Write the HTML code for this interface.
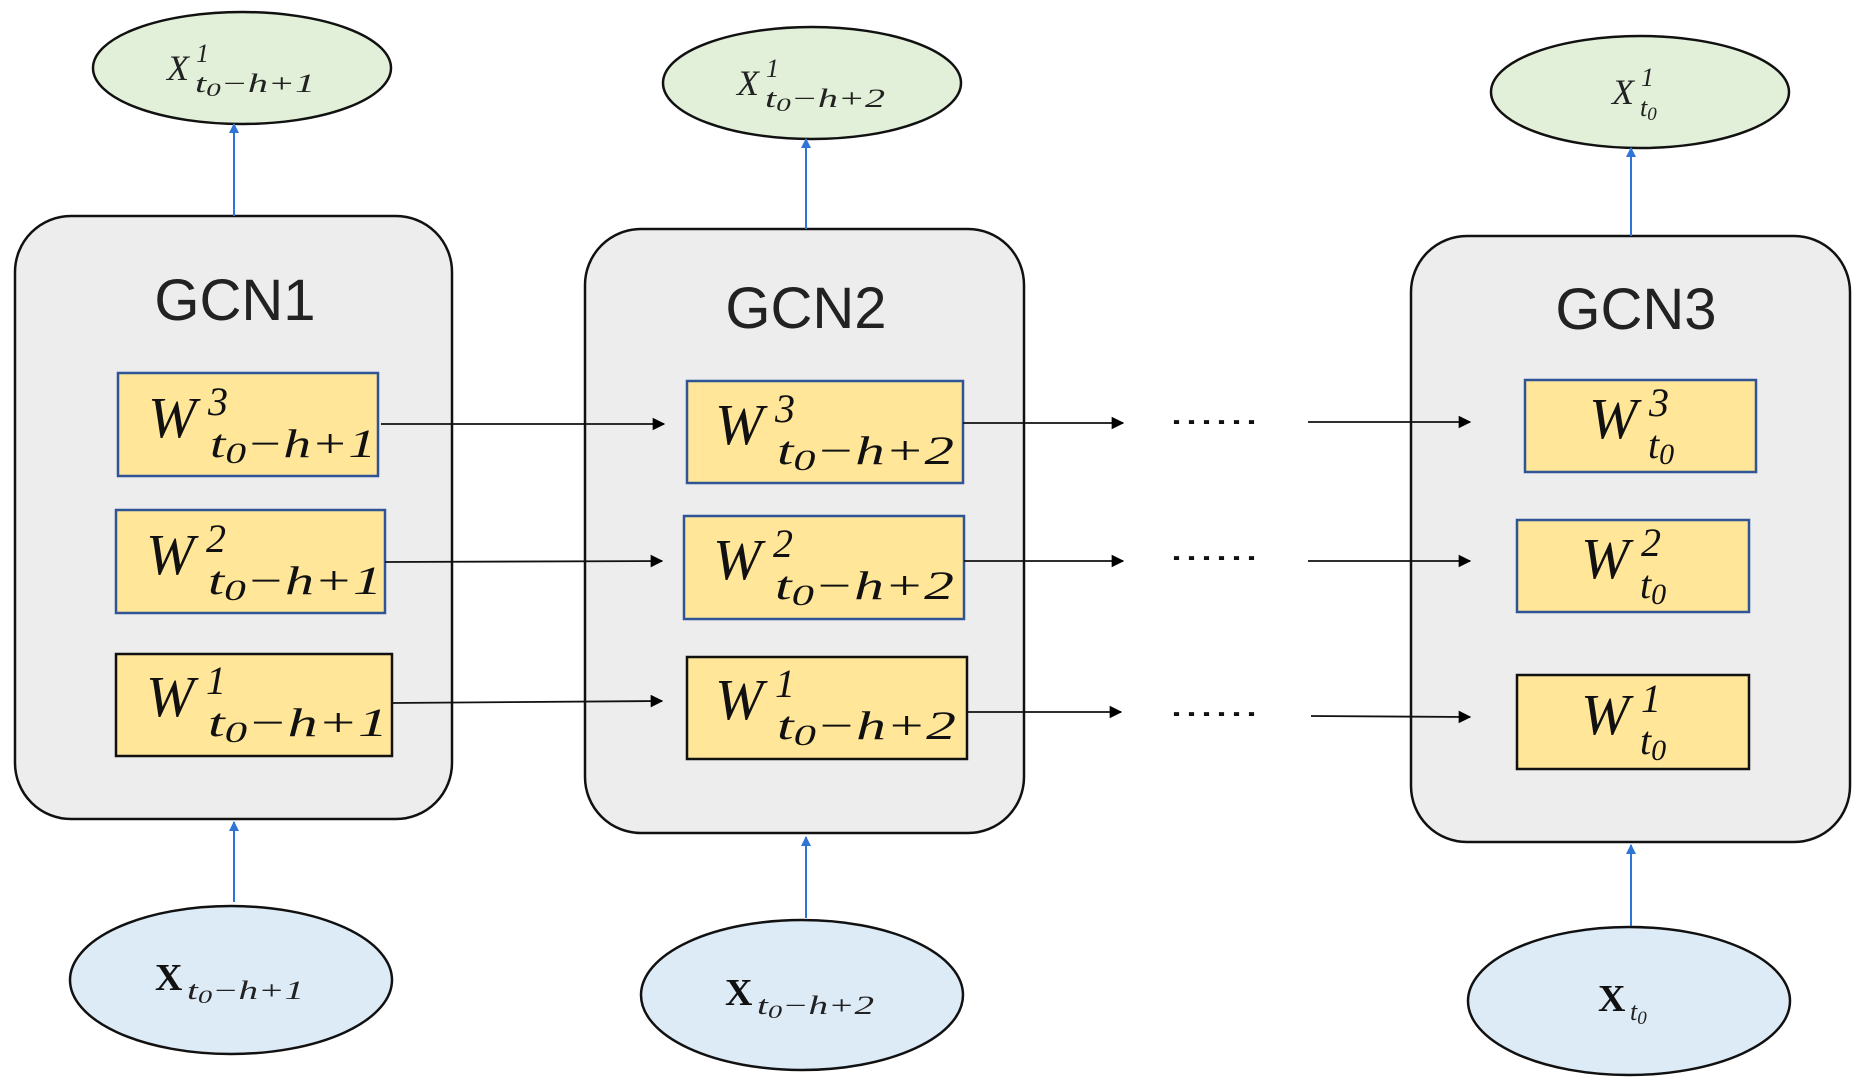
<!DOCTYPE html>
<html><head><meta charset="utf-8"><style>
html,body{margin:0;padding:0;background:#fff;}
svg{display:block;}
.w{font-family:"Liberation Serif",serif;font-style:italic;font-size:58px;fill:#111;}
.s{font-family:"Liberation Serif",serif;font-style:italic;font-size:40px;fill:#111;}
.g{font-family:"Liberation Sans",sans-serif;font-size:58px;fill:#222;}
.x{font-family:"Liberation Serif",serif;font-style:italic;font-size:36px;fill:#222;}
.xs{font-family:"Liberation Serif",serif;font-style:italic;font-size:26px;fill:#222;}
.xb{font-family:"Liberation Serif",serif;font-weight:bold;font-size:38px;fill:#111;}
</style></head><body>
<svg width="1863" height="1087" viewBox="0 0 1863 1087" xmlns="http://www.w3.org/2000/svg">
<defs>
<marker id="ab" viewBox="0 0 10 10" refX="9" refY="5" markerWidth="5" markerHeight="5" orient="auto"><path d="M0,0L10,5L0,10z" fill="#2E75D6"/></marker>
<marker id="ak" viewBox="0 0 10 10" refX="9" refY="5" markerWidth="7" markerHeight="7" orient="auto"><path d="M0,0L10,5L0,10z" fill="#000"/></marker>
</defs>
<rect x="15" y="216" width="437" height="603" rx="56" fill="#EDEDED" stroke="#111" stroke-width="2.5"/>
<rect x="585" y="229" width="439" height="604" rx="56" fill="#EDEDED" stroke="#111" stroke-width="2.5"/>
<rect x="1411" y="236" width="439" height="606" rx="56" fill="#EDEDED" stroke="#111" stroke-width="2.5"/>
<text class="g" x="235" y="320" text-anchor="middle">GCN1</text>
<text class="g" x="806" y="328" text-anchor="middle">GCN2</text>
<text class="g" x="1636" y="329" text-anchor="middle">GCN3</text>
<ellipse cx="242" cy="68" rx="149" ry="56" fill="#E2F0D9" stroke="#111" stroke-width="2.5"/>
<ellipse cx="812" cy="83" rx="149" ry="56" fill="#E2F0D9" stroke="#111" stroke-width="2.5"/>
<ellipse cx="1640" cy="92" rx="149" ry="56" fill="#E2F0D9" stroke="#111" stroke-width="2.5"/>
<ellipse cx="231" cy="980" rx="161" ry="74" fill="#DDEBF7" stroke="#111" stroke-width="2.5"/>
<ellipse cx="802" cy="995" rx="161" ry="75" fill="#DDEBF7" stroke="#111" stroke-width="2.5"/>
<ellipse cx="1629" cy="1001" rx="161" ry="74" fill="#DDEBF7" stroke="#111" stroke-width="2.5"/>
<g stroke="#2E75D6" stroke-width="2" marker-end="url(#ab)">
<line x1="234" y1="216" x2="234" y2="124"/>
<line x1="234" y1="902" x2="234" y2="822"/>
<line x1="806" y1="229" x2="806" y2="139"/>
<line x1="806" y1="918" x2="806" y2="837"/>
<line x1="1631" y1="236" x2="1631" y2="148"/>
<line x1="1631" y1="926" x2="1631" y2="845"/>
</g>
<g fill="#FFE699" stroke-width="2.5">
<rect x="118" y="373" width="260" height="103" stroke="#2F5597"/>
<rect x="116" y="510" width="269" height="103" stroke="#2F5597"/>
<rect x="116" y="654" width="276" height="102" stroke="#111"/>
<rect x="687" y="381" width="276" height="102" stroke="#2F5597"/>
<rect x="684" y="516" width="280" height="103" stroke="#2F5597"/>
<rect x="687" y="657" width="280" height="102" stroke="#111"/>
<rect x="1525" y="380" width="231" height="92" stroke="#2F5597"/>
<rect x="1517" y="520" width="232" height="92" stroke="#2F5597"/>
<rect x="1517" y="675" width="232" height="94" stroke="#111"/>
</g>
<g stroke="#111" stroke-width="1.8" marker-end="url(#ak)">
<line x1="381" y1="424" x2="664" y2="424"/>
<line x1="385" y1="562" x2="662" y2="561"/>
<line x1="392" y1="703" x2="662" y2="701"/>
<line x1="963" y1="423" x2="1123" y2="423"/>
<line x1="964" y1="561" x2="1123" y2="561"/>
<line x1="967" y1="712" x2="1121" y2="712"/>
<line x1="1308" y1="422" x2="1470" y2="422"/>
<line x1="1308" y1="561" x2="1470" y2="561"/>
<line x1="1311" y1="716" x2="1470" y2="717"/>
</g>
<g fill="#111" font-family="Liberation Sans,sans-serif" font-size="36">
<text x="1169" y="424" textLength="90" lengthAdjust="spacingAndGlyphs">......</text>
<text x="1169" y="560" textLength="90" lengthAdjust="spacingAndGlyphs">......</text>
<text x="1169" y="716" textLength="90" lengthAdjust="spacingAndGlyphs">......</text>
</g>
<g>
<text class="w" x="148" y="437">W</text><text class="s" x="208" y="415">3</text>
<text class="s" x="210" y="457" textLength="166" lengthAdjust="spacingAndGlyphs">t<tspan font-size="30" dy="6">0</tspan><tspan dy="-6">−h+1</tspan></text>
<text class="w" x="146" y="574">W</text><text class="s" x="206" y="552">2</text>
<text class="s" x="208" y="594" textLength="174" lengthAdjust="spacingAndGlyphs">t<tspan font-size="30" dy="6">0</tspan><tspan dy="-6">−h+1</tspan></text>
<text class="w" x="146" y="716">W</text><text class="s" x="206" y="694">1</text>
<text class="s" x="208" y="736" textLength="180" lengthAdjust="spacingAndGlyphs">t<tspan font-size="30" dy="6">0</tspan><tspan dy="-6">−h+1</tspan></text>

<text class="w" x="715" y="444">W</text><text class="s" x="775" y="422">3</text>
<text class="s" x="777" y="464" textLength="177" lengthAdjust="spacingAndGlyphs">t<tspan font-size="30" dy="6">0</tspan><tspan dy="-6">−h+2</tspan></text>
<text class="w" x="713" y="579">W</text><text class="s" x="773" y="557">2</text>
<text class="s" x="775" y="599" textLength="179" lengthAdjust="spacingAndGlyphs">t<tspan font-size="30" dy="6">0</tspan><tspan dy="-6">−h+2</tspan></text>
<text class="w" x="715" y="719">W</text><text class="s" x="775" y="697">1</text>
<text class="s" x="777" y="739" textLength="179" lengthAdjust="spacingAndGlyphs">t<tspan font-size="30" dy="6">0</tspan><tspan dy="-6">−h+2</tspan></text>

<text class="w" x="1589" y="438">W</text><text class="s" x="1649" y="416">3</text>
<text class="s" x="1648" y="458">t<tspan font-size="30" dy="6">0</tspan></text>
<text class="w" x="1581" y="578">W</text><text class="s" x="1641" y="556">2</text>
<text class="s" x="1640" y="598">t<tspan font-size="30" dy="6">0</tspan></text>
<text class="w" x="1581" y="734">W</text><text class="s" x="1641" y="712">1</text>
<text class="s" x="1640" y="754">t<tspan font-size="30" dy="6">0</tspan></text>
</g>
<text class="x" x="167" y="80">X</text><text class="xs" x="196" y="62">1</text>
<text class="xs" x="195" y="92" textLength="120" lengthAdjust="spacingAndGlyphs">t<tspan font-size="19" dy="4">0</tspan><tspan dy="-4">−h+1</tspan></text>
<text class="x" x="737" y="95">X</text><text class="xs" x="766" y="77">1</text>
<text class="xs" x="765" y="107" textLength="120" lengthAdjust="spacingAndGlyphs">t<tspan font-size="19" dy="4">0</tspan><tspan dy="-4">−h+2</tspan></text>
<text class="x" x="1612" y="104">X</text><text class="xs" x="1641" y="86">1</text>
<text class="xs" x="1640" y="116">t<tspan font-size="19" dy="4">0</tspan></text>
<text class="xb" x="155" y="990">X</text>
<text class="xs" x="187" y="999" textLength="117" lengthAdjust="spacingAndGlyphs">t<tspan font-size="19" dy="4">0</tspan><tspan dy="-4">−h+1</tspan></text>
<text class="xb" x="725" y="1005">X</text>
<text class="xs" x="757" y="1014" textLength="117" lengthAdjust="spacingAndGlyphs">t<tspan font-size="19" dy="4">0</tspan><tspan dy="-4">−h+2</tspan></text>
<text class="xb" x="1598" y="1011">X</text>
<text class="xs" x="1630" y="1020">t<tspan font-size="19" dy="4">0</tspan></text>
</svg>
</body></html>
